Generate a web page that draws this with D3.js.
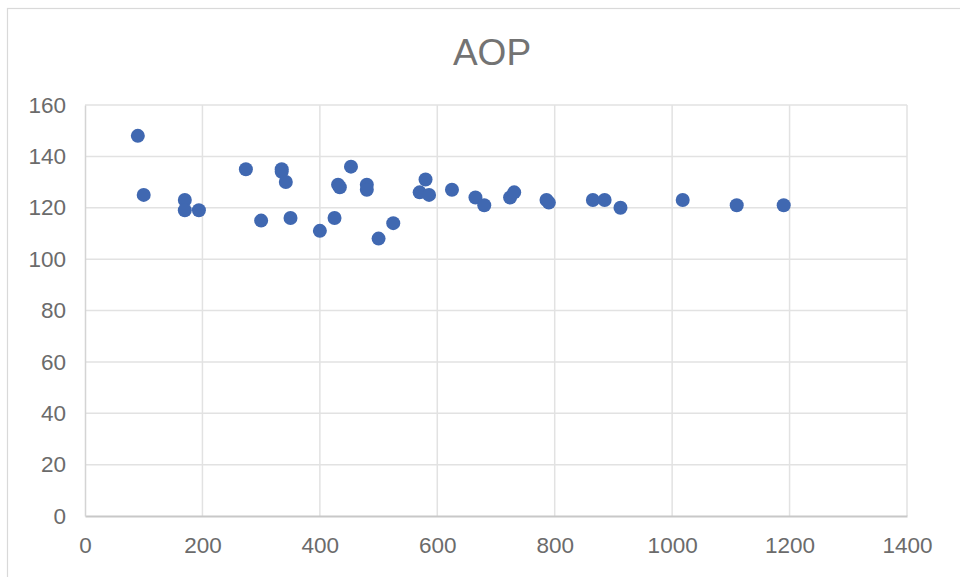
<!DOCTYPE html>
<html lang="en">
<head>
  <meta charset="utf-8">
  <title>AOP</title>
  <script src="https://d3js.org/d3.v7.min.js"></script>
  <style>
    body { margin: 0; background: #fff; }
    text { font-family: "Liberation Sans", Arial, sans-serif; }
  </style>
</head>
<body>
<script>
// values
var xValues = [90, 100, 170, 170, 194, 274, 300, 335, 335, 342, 350, 400, 425, 431, 434, 453,
               480, 480, 500, 525, 570, 580, 586, 625, 665, 680, 724, 731, 786, 790, 865, 885,
               912, 1018, 1110, 1190];
var yValues = [148, 125, 123, 119, 119, 135, 115, 135, 134, 130, 116, 111, 116, 129, 128, 136,
               129, 127, 108, 114, 126, 131, 125, 127, 124, 121, 124, 126, 123, 122, 123, 123,
               120, 123, 121, 121];
var xTicks = [0, 200, 400, 600, 800, 1000, 1200, 1400];
var yTicks = [0, 20, 40, 60, 80, 100, 120, 140, 160];

var width = 960, height = 577;
var margin = {top: 105, right: 53, bottom: 61, left: 85};

var svg = d3.select("body").append("svg")
    .attr("width", width)
    .attr("height", height);

// chart frame
svg.append("rect")
    .attr("x", 7.5).attr("y", 8.5)
    .attr("width", width).attr("height", height)
    .attr("fill", "#fff")
    .attr("stroke", "#d9d9d9")
    .attr("stroke-width", 1.2);

var x = d3.scaleLinear().domain([0, 1400]).range([margin.left, width - margin.right]);
var y = d3.scaleLinear().domain([0, 160]).range([height - margin.bottom, margin.top]);

// gridlines
svg.append("g").selectAll("line").data(xTicks.slice(1)).enter().append("line")
    .attr("x1", d => x(d)).attr("x2", d => x(d))
    .attr("y1", y(0)).attr("y2", y(160))
    .attr("stroke", "#e2e2e2").attr("stroke-width", 1.5);
svg.append("g").selectAll("line").data(yTicks.slice(1)).enter().append("line")
    .attr("x1", x(0)).attr("x2", x(1400))
    .attr("y1", d => y(d)).attr("y2", d => y(d))
    .attr("stroke", "#e2e2e2").attr("stroke-width", 1.5);

// axes
var xAxis = svg.append("g")
    .attr("transform", "translate(0," + y(0) + ")")
    .call(d3.axisBottom(x).tickValues(xTicks).tickFormat(d3.format("d")).tickSize(0).tickPadding(21));
xAxis.select(".domain").attr("stroke", "#c8c8c8").attr("stroke-width", 1.8);
xAxis.selectAll("text").attr("fill", "#6b6b6b").attr("font-size", 22.5);

var yAxis = svg.append("g")
    .attr("transform", "translate(" + x(0) + ",0)")
    .call(d3.axisLeft(y).tickValues(yTicks).tickFormat(d3.format("d")).tickSize(0).tickPadding(19));
yAxis.select(".domain").attr("stroke", "#d4d4d4").attr("stroke-width", 1.5);
yAxis.selectAll("text").attr("fill", "#6b6b6b").attr("font-size", 22.5);

// points
svg.append("g").selectAll("circle")
    .data(xValues.map((d, i) => [d, yValues[i]]))
    .enter().append("circle")
    .attr("cx", d => x(d[0]))
    .attr("cy", d => y(d[1]))
    .attr("r", 7)
    .attr("fill", "#4068b1");

// title
svg.append("text")
    .attr("x", 492).attr("y", 65)
    .attr("text-anchor", "middle")
    .attr("fill", "#737373")
    .attr("font-size", 37)
    .text("AOP");
</script>
</body>
</html>
